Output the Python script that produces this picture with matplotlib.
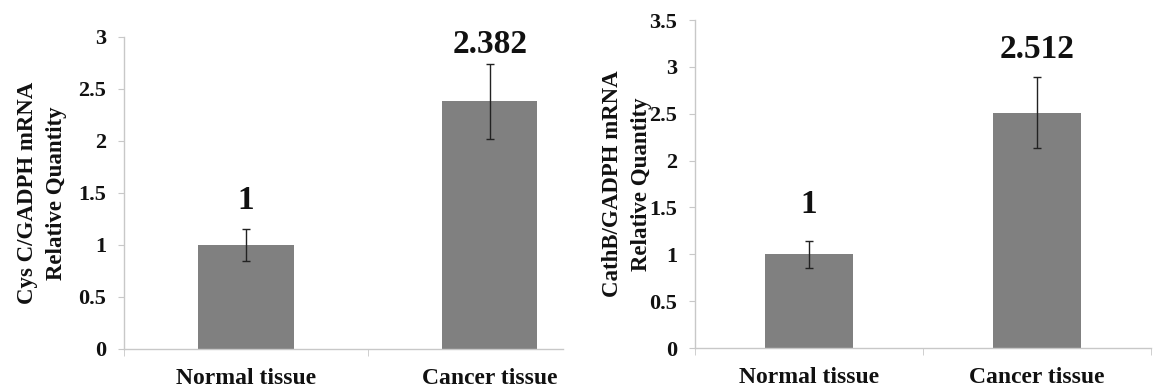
import matplotlib
matplotlib.use("Agg")
import matplotlib.pyplot as plt
from matplotlib.ticker import FixedLocator

categories = ["Normal tissue", "Cancer tissue"]

cys_values = [1.0, 2.382]
cys_errors = [0.15, 0.36]
cys_labels = ["1", "2.382"]
cys_yticks = [0, 0.5, 1, 1.5, 2, 2.5, 3]
cys_yticklabels = ["0", "0.5", "1", "1.5", "2", "2.5", "3"]

cath_values = [1.0, 2.512]
cath_errors = [0.145, 0.375]
cath_labels = ["1", "2.512"]
cath_yticks = [0, 0.5, 1, 1.5, 2, 2.5, 3, 3.5]
cath_yticklabels = ["0", "0.5", "1", "1.5", "2", "2.5", "3", "3.5"]

plt.rcParams['font.family'] = ['Liberation Serif', 'DejaVu Serif']
plt.rcParams['font.weight'] = 'bold'

fig = plt.figure(figsize=(11.54, 3.92), dpi=100)

def panel(rect, values, errors, labels, yticks, yticklabels, ylabel,
          ymax, xmax, bar_width, label_offsets, ylabel_x):
    ax = fig.add_axes(rect)
    x = list(range(len(categories)))
    ax.bar(x, values, width=bar_width, color="#808080", zorder=2)
    ax.errorbar(x, values, yerr=errors, fmt="none", ecolor="#222222",
                elinewidth=1.0, capsize=3, capthick=1.0, zorder=3)
    for xi, v, e, lab, off in zip(x, values, errors, labels, label_offsets):
        ax.annotate(lab, (xi, v + e), xytext=(0, off), textcoords="offset points",
                    ha="center", va="center", fontsize=24, fontweight="bold",
                    color="#111111")
    ax.set_xlim(-0.5, xmax)
    ax.set_ylim(0, ymax)
    ax.set_yticks(yticks)
    ax.set_yticklabels(yticklabels, fontsize=16, fontweight="bold", color="#111111")
    ax.set_xticks(x)
    ax.set_xticklabels(categories, fontsize=17, fontweight="bold", color="#111111")
    ax.xaxis.set_minor_locator(FixedLocator([-0.5, 0.5, 1.5]))
    ax.tick_params(axis="x", which="major", length=0, pad=14)
    ax.tick_params(axis="x", which="minor", length=5, color="#c8c8c8", direction="out")
    ax.tick_params(axis="y", length=4, color="#c8c8c8", pad=9)
    for s in ["top", "right"]:
        ax.spines[s].set_visible(False)
    for s in ["left", "bottom"]:
        ax.spines[s].set_color("#c8c8c8")
        ax.spines[s].set_linewidth(1.0)
    ax.set_ylabel(ylabel, fontsize=16.5, fontweight="bold", linespacing=1.5,
                  color="#111111")
    ax.yaxis.set_label_coords(ylabel_x, 0.5)
    return ax

panel([124/1154, 43/392, 439/1154, 312/392], cys_values, cys_errors, cys_labels,
      cys_yticks, cys_yticklabels, "Cys C/GADPH mRNA\nRelative Quantity",
      3.0, 1.30, 0.39, [21, 14], -0.13)

panel([695/1154, 44/392, 456/1154, 328/392], cath_values, cath_errors, cath_labels,
      cath_yticks, cath_yticklabels, "CathB/GADPH mRNA\nRelative Quantity",
      3.5, 1.5, 0.39, [26, 20], -0.095)

fig.savefig("out.png", dpi=100)
